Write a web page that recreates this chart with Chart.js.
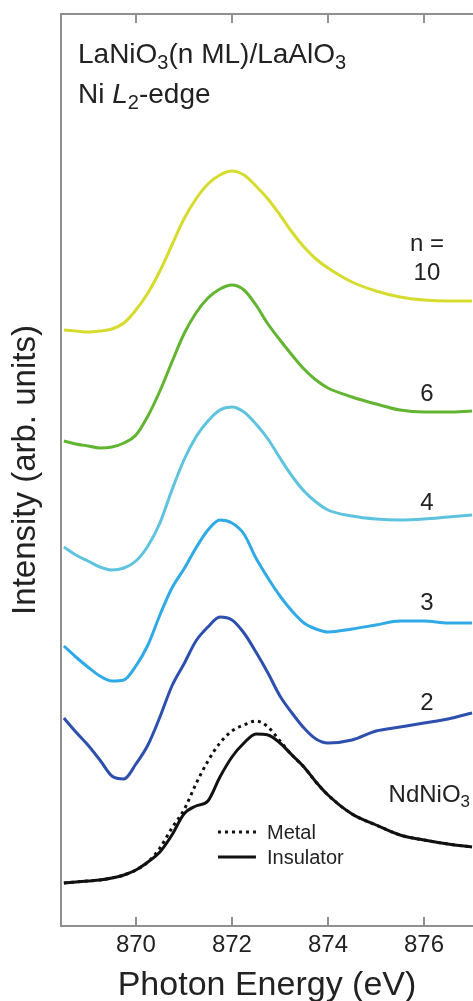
<!DOCTYPE html>
<html>
<head>
<meta charset="utf-8">
<script src="https://cdn.jsdelivr.net/npm/chart.js@4.4.0/dist/chart.umd.min.js"></script>
<style>
  body { margin: 0; background: #fff; }
  canvas { display: block; }
</style>
</head>
<body>
<canvas id="xas" width="473" height="1001"></canvas>
<script>
// photon energy grid (eV)
var energy = [868.5, 868.75, 869, 869.25, 869.5, 869.75, 870, 870.25, 870.5, 870.75,
  871, 871.25, 871.5, 871.75, 872, 872.25, 872.5, 872.75, 873, 873.25,
  873.5, 873.75, 874, 874.5, 875, 875.5, 876, 876.5, 877];

// intensity, offset per sample (arb. units)
var n10 = [5.96, 5.95, 5.94, 5.95, 5.97, 6.03, 6.16, 6.33, 6.55, 6.81,
  7.07, 7.27, 7.42, 7.51, 7.55, 7.51, 7.40, 7.27, 7.11, 6.94,
  6.79, 6.67, 6.58, 6.44, 6.35, 6.29, 6.26, 6.25, 6.25];
var n6 = [4.85, 4.82, 4.80, 4.78, 4.79, 4.83, 4.91, 5.10, 5.35, 5.64,
  5.92, 6.13, 6.28, 6.37, 6.41, 6.36, 6.21, 6.02, 5.86, 5.71,
  5.57, 5.46, 5.38, 5.29, 5.22, 5.16, 5.14, 5.14, 5.15];
var n4 = [3.79, 3.71, 3.65, 3.59, 3.56, 3.58, 3.65, 3.80, 4.03, 4.36,
  4.66, 4.89, 5.05, 5.16, 5.19, 5.14, 5.02, 4.87, 4.68, 4.50,
  4.35, 4.24, 4.16, 4.10, 4.07, 4.06, 4.07, 4.09, 4.11];
var n3 = [2.80, 2.69, 2.59, 2.50, 2.45, 2.46, 2.60, 2.81, 3.11, 3.38,
  3.57, 3.78, 3.96, 4.06, 4.03, 3.92, 3.68, 3.48, 3.30, 3.15,
  3.03, 2.97, 2.94, 2.97, 3.01, 3.05, 3.05, 3.03, 3.03];
var n2 = [2.08, 1.94, 1.81, 1.66, 1.50, 1.47, 1.62, 1.81, 2.09, 2.40,
  2.62, 2.85, 2.99, 3.09, 3.06, 2.93, 2.74, 2.53, 2.30, 2.13,
  1.98, 1.87, 1.83, 1.86, 1.95, 1.99, 2.03, 2.07, 2.13];
var insulator = [0.43, 0.44, 0.45, 0.46, 0.48, 0.51, 0.56, 0.64, 0.74, 0.91,
  1.12, 1.20, 1.25, 1.49, 1.69, 1.83, 1.92, 1.91, 1.83, 1.71,
  1.59, 1.44, 1.31, 1.12, 1.01, 0.91, 0.86, 0.82, 0.79];
var metal = [0.43, 0.44, 0.45, 0.46, 0.48, 0.51, 0.56, 0.64, 0.78, 0.98,
  1.16, 1.42, 1.65, 1.83, 1.95, 2.01, 2.05, 1.99, 1.85, 1.71,
  1.59, 1.44, 1.31, 1.12, 1.01, 0.91, 0.86, 0.82, 0.79];

var xTicks = [870, 872, 874, 876];
var seriesNames = ['n = 10', '6', '4', '3', '2', 'Metal', 'Insulator'];

var axisColor = '#8f8f8f';
var textColor = '#222';
var fontFam = '"Liberation Sans", Arial, Helvetica, sans-serif';

function pts(vals) {
  return vals.map(function (v, i) { return { x: energy[i], y: v }; });
}

// text with subscripts / italics, parts = [[text, 'n'|'sub'|'it'], ...]
function fontOf(kind, size) {
  if (kind == 'sub') return Math.round(size * 0.7) + 'px ' + fontFam;
  if (kind == 'it') return 'italic ' + size + 'px ' + fontFam;
  return size + 'px ' + fontFam;
}
function partsWidth(ctx, parts, size) {
  var w = 0;
  parts.forEach(function (p) {
    ctx.font = fontOf(p[1], size);
    w += ctx.measureText(p[0]).width;
  });
  return w;
}
function drawParts(ctx, x, y, parts, size, align) {
  if (align == 'center') x -= partsWidth(ctx, parts, size) / 2;
  ctx.textAlign = 'left';
  ctx.textBaseline = 'alphabetic';
  parts.forEach(function (p) {
    ctx.font = fontOf(p[1], size);
    var dy = p[1] == 'sub' ? size * 0.22 : 0;
    ctx.fillText(p[0], x, y + dy);
    x += ctx.measureText(p[0]).width;
  });
}

var annotate = {
  id: 'annotate',
  afterDraw: function (chart) {
    var ctx = chart.ctx, area = chart.chartArea;
    var sx = chart.scales.x, sy = chart.scales.y;
    ctx.save();

    // ticks pointing inward, top and bottom
    ctx.strokeStyle = axisColor;
    ctx.lineWidth = 2;
    xTicks.forEach(function (v) {
      var px = Math.round(sx.getPixelForValue(v));
      ctx.beginPath();
      ctx.moveTo(px, area.bottom);
      ctx.lineTo(px, area.bottom - 9);
      ctx.moveTo(px, area.top);
      ctx.lineTo(px, area.top + 9);
      ctx.stroke();
    });

    ctx.fillStyle = textColor;
    drawParts(ctx, 78, 63, [['LaNiO', 'n'], ['3', 'sub'], ['(n ML)/LaAlO', 'n'], ['3', 'sub']], 28);
    drawParts(ctx, 78, 103, [['Ni ', 'n'], ['L', 'it'], ['2', 'sub'], ['-edge', 'n']], 28);

    // curve labels
    var lx = sx.getPixelForValue(876.06);
    var labs = [['n =', 6.83], ['10', 6.54], ['6', 5.33], ['4', 4.24], ['3', 3.24], ['2', 2.24]];
    labs.forEach(function (l) {
      drawParts(ctx, lx, sy.getPixelForValue(l[1]) + 8, [[l[0], 'n']], 24, 'center');
    });
    drawParts(ctx, sx.getPixelForValue(876.11), sy.getPixelForValue(1.33) + 9,
      [['NdNiO', 'n'], ['3', 'sub']], 24, 'center');

    // legend for the NdNiO3 pair
    var x0 = sx.getPixelForValue(871.71), x1 = sx.getPixelForValue(872.5);
    var yM = sy.getPixelForValue(0.94), yI = sy.getPixelForValue(0.69);
    ctx.strokeStyle = '#111';
    ctx.lineWidth = 3;
    ctx.setLineDash([3, 4]);
    ctx.beginPath(); ctx.moveTo(x0, yM); ctx.lineTo(x1, yM); ctx.stroke();
    ctx.setLineDash([]);
    ctx.beginPath(); ctx.moveTo(x0, yI); ctx.lineTo(x1, yI); ctx.stroke();
    var tx = sx.getPixelForValue(872.73);
    drawParts(ctx, tx, yM + 7, [['Metal', 'n']], 20);
    drawParts(ctx, tx, yI + 7, [['Insulator', 'n']], 20);

    ctx.restore();
  }
};

var colors = ['#d6dc2e', '#62b530', '#5ec3de', '#2faae6', '#2d4fae', '#111', '#111'];
var values = [n10, n6, n4, n3, n2, metal, insulator];

var datasets = values.map(function (v, i) {
  return {
    label: seriesNames[i],
    data: pts(v),
    borderColor: colors[i],
    borderWidth: 3,
    borderDash: seriesNames[i] == 'Metal' ? [3, 4] : [],
    pointRadius: 0,
    cubicInterpolationMode: 'monotone',
    fill: false
  };
});

var xMin = 868.44, xMax = 877.02;

new Chart(document.getElementById('xas'), {
  type: 'line',
  data: { datasets: datasets },
  options: {
    responsive: false,
    animation: false,
    devicePixelRatio: 1,
    layout: { padding: 0 },
    plugins: { legend: { display: false }, tooltip: { enabled: false } },
    scales: {
      x: {
        type: 'linear',
        position: 'bottom',
        min: xMin,
        max: xMax,
        afterBuildTicks: function (s) { s.ticks = xTicks.map(function (v) { return { value: v }; }); },
        afterFit: function (s) { s.height = 75; },
        grid: { display: false, drawTicks: false },
        border: { display: true, color: axisColor, width: 2 },
        ticks: {
          padding: 5,
          maxRotation: 0,
          color: textColor,
          font: { family: fontFam, size: 24 },
          callback: function (v) { return v; }
        },
        title: {
          display: true,
          text: 'Photon Energy (eV)',
          color: textColor,
          font: { family: fontFam, size: 34 },
          padding: { top: 0, bottom: -5 }
        }
      },
      xTop: {
        type: 'linear',
        position: 'top',
        min: xMin,
        max: xMax,
        afterFit: function (s) { s.height = 14; },
        grid: { display: false, drawTicks: false },
        border: { display: true, color: axisColor, width: 2 },
        ticks: { display: false }
      },
      y: {
        min: 0,
        max: 9.12,
        afterFit: function (s) { s.width = 61; },
        grid: { display: false, drawTicks: false },
        border: { display: true, color: axisColor, width: 2 },
        ticks: { display: false },
        title: {
          display: true,
          text: 'Intensity (arb. units)',
          color: textColor,
          font: { family: fontFam, size: 33 },
          padding: { top: 6, bottom: 0 }
        }
      }
    }
  },
  plugins: [annotate]
});
</script>
</body>
</html>
